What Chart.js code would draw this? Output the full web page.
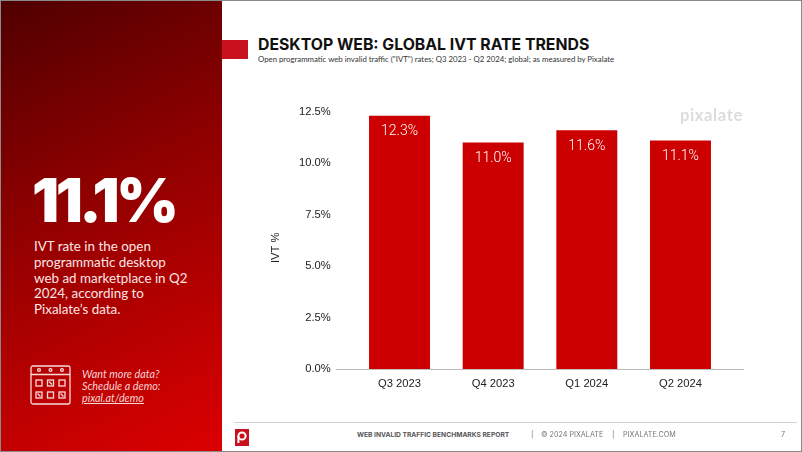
<!DOCTYPE html>
<html lang="en">
<head>
<meta charset="utf-8" />
<title>Desktop Web: Global IVT Rate Trends</title>
<script src="https://cdn.jsdelivr.net/npm/chart.js@4/dist/chart.umd.min.js"></script>
<style>
	html, body { margin: 0; padding: 0; background: #fff; }
	#page { position: relative; width: 802px; height: 452px; overflow: hidden; background: #fff; }
	#page div, #page svg, #page canvas { position: absolute; }
	.line { white-space: nowrap; }
	#panel { left: 0; top: 0; width: 222px; height: 452px; background: linear-gradient(155deg, #4f0000 0%, #8a0000 38%, #b50000 70%, #dc0000 100%); }
	#frame { left: 0; top: 0; width: 800px; height: 450px; border: 1px solid #8a8a8a; z-index: 5; }
	#big { left: 32px; top: 164px; font: 900 60px Inter, sans-serif; letter-spacing: -3.5px; color: #fff; line-height: 72px; }
	#blurb { left: 34px; top: 239px; font: 400 13.4px/15.8px Lato, sans-serif; color: #fbe6e6; }
	#more { left: 82px; top: 368px; font: italic 400 10.8px/12px Lato, sans-serif; color: #f6d5d5; }
	#more u { text-underline-offset: 1px; }
	#tab { left: 222px; top: 39.5px; width: 26px; height: 19px; background: #c8101e; }
	#title { left: 258px; top: 35px; font: 700 15.8px/20px Inter, sans-serif; color: #111; }
	#sub { left: 258px; top: 54px; font: 400 7.8px/11px Lato, sans-serif; color: #333; }
	#mark { left: 680px; top: 104px; font: 700 16.6px/22px Lato, sans-serif; color: #dcdcdc; letter-spacing: .6px; }
	#rule { left: 234px; top: 422px; width: 563px; height: 1px; background: #d2d2d2; }
	#logo { left: 235px; top: 429px; }
	.foot { top: 430px; font: 400 7.2px/10px Inter, sans-serif; color: #777; }
</style>
</head>
<body>
<div id="page">
	<div id="panel"></div>
	<div id="big">11.1%</div>
	<div id="blurb">
		<span class="line">IVT rate in the open</span><br>
		<span class="line">programmatic desktop</span><br>
		<span class="line">web ad marketplace in Q2</span><br>
		<span class="line">2024, according to</span><br>
		<span class="line">Pixalate’s data.</span>
	</div>
	<svg width="42" height="42" style="left:30px;top:365px" fill="none" stroke="#f7dcdc" stroke-width="1.3">
		<rect x="1" y="1" width="39" height="38" rx="2"/>
		<path d="M1 9.5H40"/>
		<circle cx="9" cy="5" r="1.4"/><circle cx="20.5" cy="5" r="1.4"/><circle cx="32" cy="5" r="1.4"/>
		<rect x="6" y="15" width="6" height="6"/><rect x="17.5" y="15" width="6" height="6"/><rect x="29" y="15" width="6" height="6"/>
		<rect x="6" y="27" width="6" height="6"/><rect x="17.5" y="27" width="6" height="6"/><rect x="29" y="27" width="6" height="6"/>
		<path d="M19 16.5L22 19.5M7.5 28.5L10.5 31.5M30.5 28.5L33.5 31.5"/>
	</svg>
	<div id="more">Want more data?<br>Schedule a demo:<br><u>pixal.at/demo</u></div>

	<div id="tab"></div>
	<div id="title" class="line">DESKTOP WEB: GLOBAL IVT RATE TRENDS</div>
	<div id="sub" class="line">Open programmatic web invalid traffic ("IVT") rates; Q3 2023 - Q2 2024; global; as measured by Pixalate</div>

	<canvas id="myChart" width="577" height="327" style="left:225px;top:83px"></canvas>
	<div id="mark" class="line">pixalate</div>

	<div id="rule"></div>
	<svg id="logo" width="14" height="17">
		<rect width="14" height="17" fill="#c8101e"/>
		<circle cx="7" cy="7" r="3.6" fill="none" stroke="#fff" stroke-width="2"/>
		<path d="M3.4 7V14" stroke="#fff" stroke-width="2"/>
	</svg>
	<div class="foot line" style="left:357px;font-weight:700;font-size:6.7px;color:#555">WEB INVALID TRAFFIC BENCHMARKS REPORT</div>
	<div class="foot line" style="left:531px">|</div>
	<div class="foot line" style="left:541px">© 2024 PIXALATE</div>
	<div class="foot line" style="left:612px">|</div>
	<div class="foot line" style="left:623px">PIXALATE.COM</div>
	<div class="foot line" style="left:781px">7</div>
	<div id="frame"></div>
</div>

<script type="text/javascript">
	const quarters = ['Q3 2023', 'Q4 2023', 'Q1 2024', 'Q2 2024'];
	const ivtRates = [12.3, 11.0, 11.6, 11.1];
	const axisTitle = 'IVT %';

	//writes the values inside the bars, the axis line which runs past the bars, and the axis title
	const barExtras = {
		id: 'barExtras',
		afterDatasetsDraw(chart) {
			const ctx = chart.ctx;
			const area = chart.chartArea;
			const base = chart.scales.y.getPixelForValue(0);

			ctx.save();
			ctx.strokeStyle = '#bdbdbd';
			ctx.lineWidth = 1;
			ctx.beginPath();
			ctx.moveTo(area.left - 16.7, base + 0.5);
			ctx.lineTo(area.right + 16.7, base + 0.5);
			ctx.stroke();

			ctx.fillStyle = '#fff';
			ctx.font = '300 14px Roboto, sans-serif';
			ctx.textAlign = 'center';
			ctx.textBaseline = 'middle';
			chart.getDatasetMeta(0).data.forEach((bar, i) => {
				ctx.fillText(ivtRates[i].toFixed(1) + '%', bar.x, bar.y + 16);
			});

			//sits a bit below the middle of the axis in the original
			ctx.translate(area.left - 76.5, (area.top + area.bottom) / 2 + 7.5);
			ctx.rotate(-Math.PI / 2);
			ctx.fillStyle = '#222';
			ctx.font = '11.2px "Liberation Sans"';
			ctx.fillText(axisTitle, 0, 0);
			ctx.restore();
		}
	};

	const myChart = new Chart(document.getElementById('myChart').getContext('2d'), {
		type: 'bar',
		data: {
			labels: quarters,
			datasets: [{
				data: ivtRates,
				backgroundColor: '#cc0000',
				categoryPercentage: 1,
				barPercentage: 0.651
			}]
		},
		options: {
			responsive: false,
			animation: false,
			layout: { padding: { left: 45, right: 74.7, top: 0, bottom: 11 } },
			plugins: { legend: { display: false }, tooltip: { enabled: false } },
			scales: {
				x: {
					grid: { display: false },
					border: { display: false },
					afterFit(scale) { scale.height = 30; },
					ticks: { color: '#222', font: { family: 'Liberation Sans', size: 11.2 }, padding: 0, maxRotation: 0 }
				},
				y: {
					min: 0,
					max: 12.5,
					grid: { display: false, drawTicks: false },
					border: { display: false },
					afterFit(scale) { scale.width = 82.7; },
					ticks: {
						stepSize: 2.5,
						padding: 22,
						color: '#222',
						font: { family: 'Liberation Sans', size: 11.2 },
						callback: v => v.toFixed(1) + '%'
					}
				}
			}
		},
		plugins: [barExtras]
	});
</script>
</body>
</html>
